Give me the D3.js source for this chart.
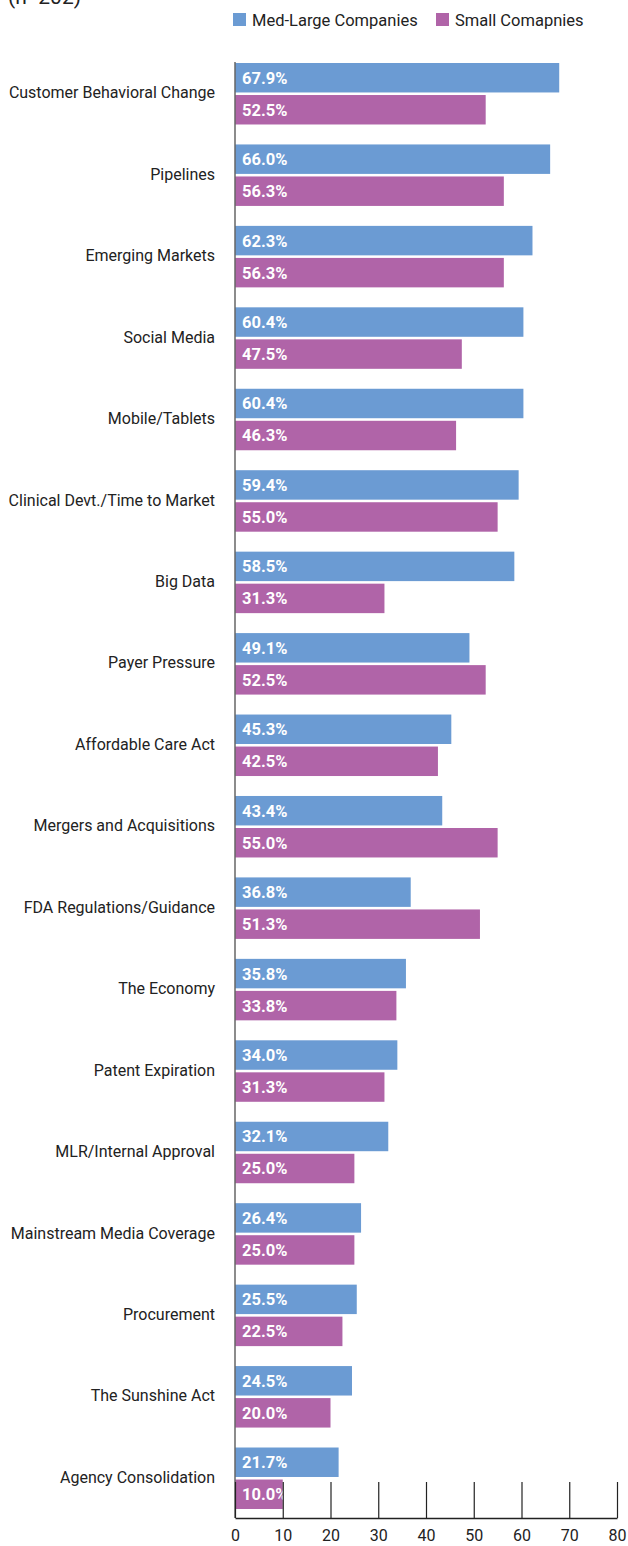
<!DOCTYPE html>
<html>
<head>
<meta charset="utf-8">
<script src="https://cdn.jsdelivr.net/npm/d3@7"></script>
<style>
  html, body { margin: 0; padding: 0; background: #fff; }
  svg { display: block; font-family: Roboto, "Liberation Sans", sans-serif; }
</style>
</head>
<body>
<svg id="chart" width="628" height="1546"></svg>
<script>
// Survey categories, top to bottom
const categories = [
  "Customer Behavioral Change",
  "Pipelines",
  "Emerging Markets",
  "Social Media",
  "Mobile/Tablets",
  "Clinical Devt./Time to Market",
  "Big Data",
  "Payer Pressure",
  "Affordable Care Act",
  "Mergers and Acquisitions",
  "FDA Regulations/Guidance",
  "The Economy",
  "Patent Expiration",
  "MLR/Internal Approval",
  "Mainstream Media Coverage",
  "Procurement",
  "The Sunshine Act",
  "Agency Consolidation"
];

const seriesNames = ["Med-Large Companies", "Small Comapnies"];

// Percent of respondents, per category
const medLarge = [67.9, 66.0, 62.3, 60.4, 60.4, 59.4, 58.5, 49.1, 45.3, 43.4, 36.8, 35.8, 34.0, 32.1, 26.4, 25.5, 24.5, 21.7];
const small    = [52.5, 56.3, 56.3, 47.5, 46.3, 55.0, 31.3, 52.5, 42.5, 55.0, 51.3, 33.8, 31.3, 25.0, 25.0, 22.5, 20.0, 10.0];

const xTicks = [0, 10, 20, 30, 40, 50, 60, 70, 80];

const colors = ["#6b9bd3", "#b064a8"];

const svg = d3.select("#chart");

const x = d3.scaleLinear().domain([0, 80]).range([235, 617]);

const y = d3.scaleBand()
  .domain(categories)
  .range([63, 1509])
  .paddingInner(0.245)
  .paddingOuter(0);

const ySub = d3.scaleBand()
  .domain(seriesNames)
  .range([0, y.bandwidth()])
  .paddingInner(0.08);

const rows = categories.map((c, i) => ({
  category: c,
  values: [
    { series: seriesNames[0], value: medLarge[i] },
    { series: seriesNames[1], value: small[i] }
  ]
}));

// Sample size note, mostly above the top edge
svg.append("text")
  .attr("x", 8)
  .attr("y", 4)
  .attr("font-size", 21)
  .attr("fill", "#222")
  .text("(n=202)");

// Legend
const legend = svg.append("g");
const legendX = [233, 436];
seriesNames.forEach((name, i) => {
  legend.append("rect")
    .attr("x", legendX[i])
    .attr("y", 13)
    .attr("width", 13)
    .attr("height", 13)
    .attr("fill", colors[i]);
  legend.append("text")
    .attr("x", legendX[i] + 19)
    .attr("y", 20)
    .attr("dy", "0.35em")
    .attr("font-size", 16.5)
    .attr("fill", "#222")
    .text(name);
});

// Bars
const groups = svg.append("g")
  .selectAll("g")
  .data(rows)
  .join("g")
  .attr("transform", d => `translate(0,${y(d.category)})`);

groups.selectAll("rect")
  .data(d => d.values)
  .join("rect")
  .attr("x", x(0))
  .attr("y", d => ySub(d.series))
  .attr("width", d => x(d.value) - x(0))
  .attr("height", ySub.bandwidth())
  .attr("fill", (d, i) => colors[i]);

groups.selectAll("text.value")
  .data(d => d.values)
  .join("text")
  .attr("class", "value")
  .attr("x", x(0) + 7)
  .attr("y", d => ySub(d.series) + ySub.bandwidth() / 2)
  .attr("dy", "0.36em")
  .attr("font-size", 16.5)
  .attr("font-weight", "bold")
  .attr("fill", "#fff")
  .text(d => d.value.toFixed(1) + "%");

// Category labels
svg.append("g")
  .selectAll("text")
  .data(categories)
  .join("text")
  .attr("x", 215)
  .attr("y", d => y(d) + y.bandwidth() / 2 - 1)
  .attr("dy", "0.35em")
  .attr("text-anchor", "end")
  .attr("font-size", 16)
  .attr("fill", "#222")
  .text(d => d);

// Vertical baseline
svg.append("line")
  .attr("x1", x(0)).attr("x2", x(0))
  .attr("y1", 62).attr("y2", 1518)
  .attr("stroke", "#666")
  .attr("stroke-width", 1.5);

// Bottom axis with upward ticks
const xAxis = d3.axisBottom(x)
  .tickValues(xTicks)
  .tickSize(0)
  .tickPadding(12);

const axisG = svg.append("g")
  .attr("transform", "translate(0,1518)")
  .call(xAxis);

axisG.select(".domain")
  .attr("stroke", "#222")
  .attr("stroke-width", 1.5);

axisG.selectAll(".tick line")
  .attr("y2", -36)
  .attr("stroke", "#222")
  .attr("stroke-width", 1.2);

axisG.selectAll(".tick text")
  .attr("font-size", 16)
  .attr("font-family", "Roboto, 'Liberation Sans', sans-serif")
  .attr("fill", "#222");
</script>
</body>
</html>
